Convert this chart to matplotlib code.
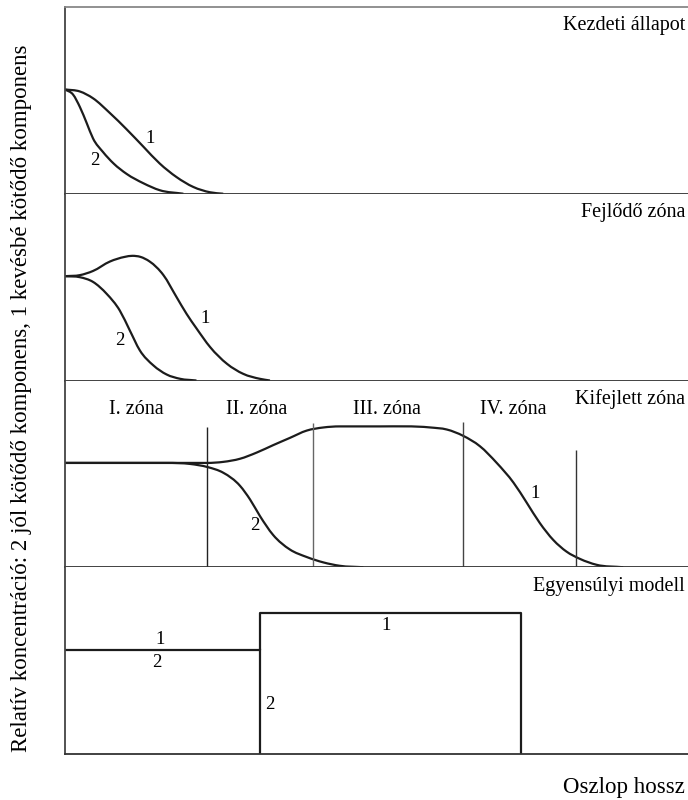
import matplotlib.pyplot as plt
from matplotlib.path import Path
from matplotlib.patches import PathPatch

plt.rcParams['font.family'] = ['Liberation Serif', 'DejaVu Serif']

# x: oszlop hossz (0-100), y: relatív koncentráció (betáplálás = 1)
XMAX, YMAX = 100, 1.79

# Kezdeti állapot
x_k1 = [0, 2.4, 4.5, 7.2, 9.9, 12.6, 15.2, 17.9, 20.6, 23.3, 25.4]
y_k1 = [1.0, 0.98, 0.915, 0.774, 0.617, 0.45, 0.29, 0.16, 0.065, 0.014, 0]
x_k2 = [0, 1.3, 2.4, 3.5, 4.5, 6.1, 7.8, 9.9, 12.6, 15.2, 19.0]
y_k2 = [1.0, 0.95, 0.83, 0.675, 0.53, 0.40, 0.29, 0.19, 0.10, 0.034, 0]

# Fejlődő zóna
x_f1 = [0, 2.4, 4.5, 7.2, 9.6, 10.8, 12.1, 13.6, 15.8, 17.9, 19.5, 21.1, 23.3, 26.0, 28.6, 31.3, 32.9]
y_f1 = [1.0, 1.01, 1.05, 1.14, 1.185, 1.195, 1.185, 1.14, 1.01, 0.80, 0.64, 0.50, 0.32, 0.16, 0.064, 0.016, 0]
x_f2 = [0, 2.4, 4.5, 6.7, 8.8, 10.4, 12.0, 14.2, 16.3, 18.5, 21.1]
y_f2 = [1.0, 0.99, 0.945, 0.83, 0.67, 0.48, 0.29, 0.144, 0.058, 0.016, 0]

# Kifejlett zóna
x_m1 = [0, 22.8, 25.4, 28.1, 30.8, 33.4, 36.1, 38.8, 41.5, 44.1, 50.6, 58.6, 61.3, 63.9,
        66.6, 69.3, 72.0, 74.1, 76.2, 78.4, 80.5, 82.7, 85.3, 89.6]
y_m1 = [1.0, 1.0, 1.01, 1.04, 1.10, 1.17, 1.24, 1.31, 1.34, 1.35, 1.35, 1.34, 1.32, 1.26,
        1.16, 1.0, 0.81, 0.62, 0.425, 0.26, 0.15, 0.079, 0.024, 0]
x_m2 = [0, 16.3, 20.1, 22.9, 25.4, 28.1, 29.7, 31.3, 33.4, 36.1, 38.8, 41.5, 44.1, 47.9]
y_m2 = [1.0, 1.0, 0.99, 0.96, 0.906, 0.78, 0.65, 0.49, 0.31, 0.17, 0.098, 0.046, 0.014, 0]
zone_x = [22.8, 39.8, 63.9, 82.1]
zone_top = [1.34, 1.38, 1.39, 1.12]
zone_names = ['I. zóna', 'II. zóna', 'III. zóna', 'IV. zóna']
zone_name_x = [11.4, 30.8, 51.7, 71.9]

# Egyensúlyi modell (lépcsős profil)
x_e = [0, 31.3, 31.3, 73.2, 73.2]
y_e = [1.0, 1.0, 1.35, 1.35, 0]
x_e2 = [31.3, 31.3]
y_e2 = [1.0, 0]

titles = ['Kezdeti állapot', 'Fejlődő zóna', 'Kifejlett zóna', 'Egyensúlyi modell']

lc = '#1c1c1c'
lw = 1.6


def smooth_curve(ax, xs, ys):
    # monoton Hermite-görbe a pontokon át, köbös Bézier szakaszokként rajzolva
    n = len(xs)
    d = [(ys[i + 1] - ys[i]) / (xs[i + 1] - xs[i]) for i in range(n - 1)]
    m = [d[0]] + [0.0] * (n - 2) + [d[-1]]
    for i in range(1, n - 1):
        if d[i - 1] * d[i] > 0:
            h0 = xs[i] - xs[i - 1]
            h1 = xs[i + 1] - xs[i]
            m[i] = (h1 * d[i - 1] + h0 * d[i]) / (h0 + h1)
    verts = [(xs[0], ys[0])]
    codes = [Path.MOVETO]
    for i in range(n - 1):
        h = (xs[i + 1] - xs[i]) / 3
        verts += [(xs[i] + h, ys[i] + m[i] * h),
                  (xs[i + 1] - h, ys[i + 1] - m[i + 1] * h),
                  (xs[i + 1], ys[i + 1])]
        codes += [Path.CURVE4] * 3
    ax.add_patch(PathPatch(Path(verts, codes), fill=False, edgecolor=lc, lw=lw))


fig, axes = plt.subplots(4, 1, figsize=(6.88, 8), dpi=100)
plt.subplots_adjust(left=65 / 688, right=1.0, top=0.99125, bottom=0.0575, hspace=0)

for i, ax in enumerate(axes):
    ax.set_xlim(0, XMAX)
    ax.set_ylim(0, YMAX)
    ax.set_xticks([])
    ax.set_yticks([])
    ax.spines['right'].set_visible(False)
    ax.spines['top'].set_visible(i == 0)
    ax.spines['top'].set_color('#888888')
    ax.spines['left'].set_color('#444444')
    ax.spines['bottom'].set_color('#333333')
    for s in ax.spines.values():
        s.set_linewidth(1.3)
    ax.text(0.995, 1.61, titles[i], ha='right', va='center', fontsize=14.5,
            transform=ax.get_yaxis_transform())

fs = 13.5
ax = axes[0]
smooth_curve(ax, x_k1, y_k1)
smooth_curve(ax, x_k2, y_k2)
ax.text(13.6, 0.53, '1', fontsize=fs, ha='center', va='center')
ax.text(4.8, 0.32, '2', fontsize=fs, ha='center', va='center')

ax = axes[1]
smooth_curve(ax, x_f1, y_f1)
smooth_curve(ax, x_f2, y_f2)
ax.text(22.5, 0.59, '1', fontsize=fs, ha='center', va='center')
ax.text(8.8, 0.38, '2', fontsize=fs, ha='center', va='center')

ax = axes[2]
smooth_curve(ax, x_m1, y_m1)
smooth_curve(ax, x_m2, y_m2)
ax.vlines(zone_x, 0, zone_top, colors=['#222222', '#666666', '#444444', '#333333'], lw=1.0)
for name, zx in zip(zone_names, zone_name_x):
    ax.text(zx, 1.51, name, fontsize=14.5, ha='center', va='center')
ax.text(75.4, 0.71, '1', fontsize=fs, ha='center', va='center')
ax.text(30.5, 0.40, '2', fontsize=fs, ha='center', va='center')

ax = axes[3]
ax.plot(x_e, y_e, color=lc, lw=lw)
ax.plot(x_e2, y_e2, color=lc, lw=lw)
ax.text(15.2, 1.1, '1', fontsize=fs, ha='center', va='center')
ax.text(14.8, 0.875, '2', fontsize=fs, ha='center', va='center')
ax.text(51.5, 1.23, '1', fontsize=fs, ha='center', va='center')
ax.text(32.9, 0.47, '2', fontsize=fs, ha='center', va='center')

fig.text(22 / 688, 1 - 398 / 800,
         'Relatív koncentráció: 2 jól kötődő komponens, 1 kevésbé kötődő komponens',
         rotation=90, ha='center', va='center', fontsize=16.5)
fig.text(685 / 688, 1 - 787 / 800, 'Oszlop hossz', ha='right', va='center', fontsize=16.5)

fig.savefig('out.png', dpi=100)
